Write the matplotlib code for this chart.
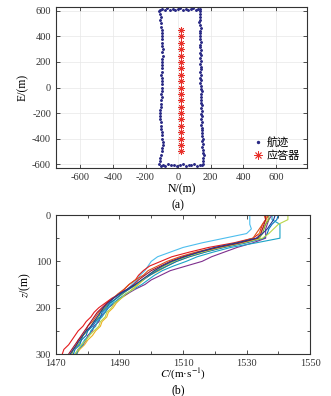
#!/usr/bin/env python3
"""
航迹/应答器布设图 + 声速剖面图
"""

import matplotlib
matplotlib.use('Agg')
import matplotlib.pyplot as plt
from matplotlib.ticker import MultipleLocator

# 字体设置（衬线字体 + 中文回退）
plt.rcParams['font.family'] = ['Liberation Serif', 'Noto Sans CJK SC']
plt.rcParams['mathtext.fontset'] = 'stix'
plt.rcParams['axes.unicode_minus'] = False

# ---------------- (a) 航迹与应答器 ----------------
# 左侧航线（自北向南）
left_n = [-116, -112, -108, -110, -104, -106, -100, -102, -98, -101, -97, -99, -95,
          -98, -94, -97, -100, -96, -102, -99, -103, -98, -100, -97, -98, -101, -104,
          -102, -106, -104, -108, -110, -112, -109, -110, -106, -108, -104, -102, -100,
          -96, -90, -94, -98, -100, -104, -110, -112, -116]
left_e = [600, 578, 552, 528, 503, 478, 452, 428, 401, 377, 352, 326, 300, 276, 249,
          226, 200, 174, 151, 125, 99, 76, 50, 24, 0, -26, -51, -76, -100, -126, -149,
          -175, -200, -226, -250, -274, -300, -326, -349, -375, -400, -424, -450, -476,
          -500, -525, -551, -575, -598]
# 南侧横线
bottom_n = [-104, -92, -78, -60, -44, -26, -8, 10, 28, 46, 64, 82, 100, 118, 134, 148]
bottom_e = [-612, -606, -614, -602, -610, -604, -616, -606, -600, -612, -604, -610, -602,
            -614, -606, -608]
# 右侧航线（自南向北，较密）
right_n = [150, 154, 152, 156, 150, 153, 148, 151, 146, 150, 147, 144, 149, 145, 142,
           147, 143, 146, 141, 145, 140, 144, 142, 138, 143, 140, 145, 139, 142, 137,
           141, 136, 140, 135, 139, 142, 136, 140, 134, 138, 135, 140, 136, 133, 138,
           134, 137, 132, 136, 138, 134, 131, 135, 132, 136, 133]
right_e = [-596, -575, -553, -531, -510, -489, -466, -445, -422, -401, -379, -357, -336,
           -314, -292, -270, -249, -227, -205, -183, -162, -140, -118, -96, -75, -53,
           -31, -10, 12, 34, 56, 77, 99, 121, 142, 164, 186, 207, 229, 251, 272, 294,
           316, 337, 359, 381, 402, 424, 446, 467, 489, 511, 532, 554, 576, 598]
# 北侧横线
top_n = [136, 124, 110, 94, 78, 62, 46, 30, 14, -2, -18, -34, -50, -66, -82, -98, -112]
top_e = [612, 618, 608, 620, 614, 606, 618, 610, 622, 612, 604, 616, 610, 620, 608, 614,
         606]

track_n = left_n + bottom_n + right_n + top_n
track_e = left_e + bottom_e + right_e + top_e

# 应答器位置
resp_n = [20] * 20
resp_e = [450, 400, 350, 300, 250, 200, 150, 100, 50, 0, -50, -100, -150, -200, -250,
          -300, -350, -400, -450, -500]

# ---------------- (b) 声速剖面 ----------------
depth = [0, 10, 20, 30, 40, 50, 60, 70, 80, 90, 100, 110, 120, 130, 140, 150, 160, 170,
         180, 190, 200, 210, 220, 230, 240, 250, 260, 270, 280, 290, 300]
svp_list = [
    ('#4DBEEE', [1531, 1531, 1531, 1531.5, 1530, 1523, 1516, 1510, 1506, 1502, 1500, 1499,
                 1498, 1496.5, 1495.5, 1494, 1492.5, 1491, 1489, 1487.5, 1486.5, 1485,
                 1484, 1483.5, 1482, 1481, 1480.5, 1479, 1478, 1477, 1476]),
    ('#E41A1C', [1537, 1536, 1535, 1534.5, 1534, 1532, 1526, 1518, 1512, 1506.5, 1503,
                 1499.5, 1497.5, 1496, 1495, 1493, 1491.5, 1490, 1487.5, 1485.5, 1483.5,
                 1482, 1481, 1479.5, 1478.5, 1477, 1476, 1475, 1474, 1472.5, 1472]),
    ('#D95319', [1535.5, 1536, 1535, 1534, 1533, 1532, 1527, 1520, 1514, 1509, 1505, 1502,
                 1499, 1497.5, 1495, 1493, 1491.5, 1489.5, 1488, 1486, 1485, 1483.5, 1482.5,
                 1481.5, 1480, 1479.5, 1478.5, 1477, 1476.5, 1475.5, 1474.5]),
    ('#EDB120', [1536, 1536.5, 1536, 1535, 1534, 1533.5, 1529, 1522, 1517, 1512, 1508, 1505,
                 1502.5, 1499.5, 1497.5, 1496, 1494, 1492.5, 1490.5, 1489, 1488, 1486.5,
                 1486, 1484.5, 1484, 1482.5, 1481.5, 1480, 1479, 1477.5, 1476.5]),
    ('#7E2F8E', [1538, 1537, 1536.5, 1536, 1536, 1536, 1532, 1527, 1523, 1519, 1516, 1511,
                 1506, 1503, 1500, 1498, 1495, 1492.5, 1490, 1488.5, 1486.5, 1485.5,
                 1484, 1483.5, 1482, 1481.5, 1480, 1479.5, 1478.5, 1477, 1476.5]),
    ('#77AC30', [1537, 1537, 1536, 1535.5, 1535, 1534, 1528, 1521, 1515.5, 1511, 1507, 1504,
                 1501.5, 1499.5, 1497, 1495.5, 1493, 1491, 1489, 1487, 1485.5, 1484,
                 1483.5, 1482, 1481, 1480, 1478.5, 1478, 1477, 1475.5, 1475]),
    ('#0072BD', [1540, 1539.5, 1538, 1537, 1536.5, 1535.5, 1530, 1523, 1517, 1512, 1508,
                 1505, 1502, 1499.5, 1497.5, 1495, 1493, 1490.5, 1489, 1487, 1486, 1484.5,
                 1484, 1482.5, 1481.5, 1480, 1479.5, 1478, 1477.5, 1476, 1475.5]),
    ('#1BA3C6', [1538, 1538, 1540.5, 1540.5, 1540.5, 1540.5, 1533, 1525, 1519.5, 1514.5,
                 1511, 1507, 1503.5, 1501, 1499, 1497, 1494.5, 1492, 1490, 1488, 1486.5,
                 1485.5, 1484.5, 1483, 1482.5, 1481, 1480.5, 1479, 1478.5, 1477, 1476.5]),
    ('#B8D64B', [1543, 1543, 1540, 1538.5, 1537, 1535, 1529, 1522, 1516, 1511, 1507, 1504,
                 1501, 1499, 1497.5, 1495.5, 1494.5, 1492, 1490.5, 1488.5, 1487.5, 1486,
                 1485.5, 1484, 1483.5, 1482, 1480.5, 1479.5, 1478, 1477, 1476]),
    ('#A2142F', [1536, 1536, 1535.5, 1535, 1534.5, 1533.5, 1528, 1521, 1515, 1510, 1506,
                 1503, 1500, 1498, 1496, 1494.5, 1492.5, 1490, 1488, 1486, 1484.5, 1483,
                 1482, 1481, 1480, 1479, 1478, 1477, 1476, 1475, 1474]),
    ('#1F3A93', [1539, 1538.5, 1537.5, 1536.5, 1535, 1533, 1527, 1520, 1515, 1510.5, 1506.5,
                 1503.5, 1501, 1499, 1497, 1495, 1492.5, 1490, 1488, 1486.5, 1485, 1484,
                 1483, 1482, 1481, 1479.5, 1478.5, 1477.5, 1476.5, 1475.5, 1474.5]),
]

TICK_FS = 7.5
SPINE_COLOR = '#333333'


def style_axes(ax):
    """统一坐标轴风格：刻度朝内、四边有刻度"""
    ax.tick_params(direction='in', which='both', top=True, right=True,
                   labelsize=TICK_FS, colors=SPINE_COLOR, length=3, width=0.6)
    ax.tick_params(which='minor', length=2)
    for sp in ax.spines.values():
        sp.set_color(SPINE_COLOR)
        sp.set_linewidth(0.8)


fig = plt.figure(figsize=(3.31, 3.96), dpi=100)

# (a)
ax1 = fig.add_axes([0.169, 0.576, 0.758, 0.406])
ax1.plot(track_n, track_e, linestyle='none', marker='o', markersize=1.1,
         color='#2A2A85', label='航迹')
ax1.plot(resp_n, resp_e, linestyle='none', marker=(8, 2, 0), markersize=4.5,
         markeredgewidth=0.6, color='#E8302A', label='应答器')
ax1.set_xlim(-750, 790)
ax1.set_ylim(-630, 630)
ax1.set_xticks([-600, -400, -200, 0, 200, 400, 600])
ax1.set_yticks([-600, -400, -200, 0, 200, 400, 600])
ax1.grid(True, color='#e8e8e8', linewidth=0.5)
ax1.set_axisbelow(True)
style_axes(ax1)
ax1.set_xlabel('N/(m)', fontsize=8.5, labelpad=1)
ax1.set_ylabel('E/(m)', fontsize=8.5, labelpad=2)
leg = ax1.legend(loc='lower right', frameon=False, fontsize=8, handlelength=0.8,
                 handletextpad=0.4, labelspacing=0.3, borderaxespad=0.2,
                 markerscale=1.3)
fig.text(0.538, 0.482, '(a)', ha='center', va='center', fontsize=8.5)

# (b)
ax2 = fig.add_axes([0.169, 0.106, 0.768, 0.351])
for color, speed in svp_list:
    ax2.plot(speed, depth, color=color, linewidth=0.8)
ax2.set_xlim(1470, 1550)
ax2.set_ylim(300, 0)
ax2.set_xticks([1470, 1490, 1510, 1530, 1550])
ax2.set_yticks([0, 100, 200, 300])
ax2.xaxis.set_minor_locator(MultipleLocator(10))
ax2.yaxis.set_minor_locator(MultipleLocator(50))
style_axes(ax2)
ax2.set_xlabel(r'$C$/(m·s$^{-1}$)', fontsize=8, labelpad=-1)
ax2.set_ylabel(r'$z$/(m)', fontsize=8.5, labelpad=2)
fig.text(0.538, 0.014, '(b)', ha='center', va='center', fontsize=8.5)

fig.savefig('out.png', dpi=100, facecolor='white')
